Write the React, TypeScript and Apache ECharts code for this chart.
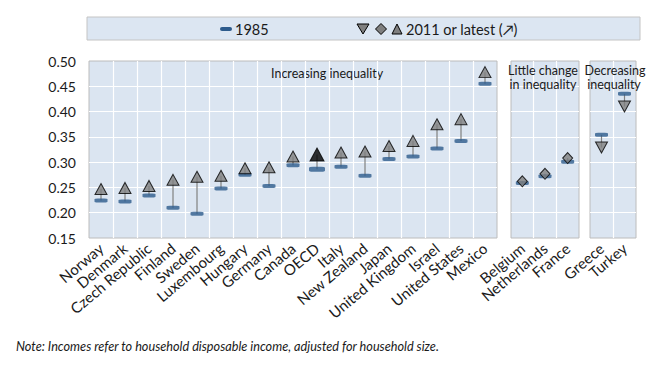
import React, { useEffect, useRef } from "react";
import * as echarts from "echarts";

const catIncreasing = ["Norway", "Denmark", "Czech Republic", "Finland", "Sweden", "Luxembourg", "Hungary", "Germany", "Canada", "OECD", "Italy", "New Zealand", "Japan", "United Kingdom", "Israel", "United States", "Mexico"];
const y1985Increasing = [0.224, 0.222, 0.234, 0.210, 0.198, 0.248, 0.275, 0.253, 0.294, 0.286, 0.291, 0.273, 0.306, 0.311, 0.327, 0.342, 0.455];
const yLatestIncreasing = [0.247, 0.249, 0.253, 0.265, 0.271, 0.273, 0.288, 0.290, 0.311, 0.315, 0.319, 0.321, 0.332, 0.342, 0.375, 0.385, 0.478];

const catLittle = ["Belgium", "Netherlands", "France"];
const y1985Little = [0.259, 0.272, 0.301];
const yLatestLittle = [0.262, 0.277, 0.308];

const catDecreasing = ["Greece", "Turkey"];
const y1985Decreasing = [0.354, 0.435];
const yLatestDecreasing = [0.329, 0.410];

const yTicks = ["0.15", "0.20", "0.25", "0.30", "0.35", "0.40", "0.45", "0.50"];

const FONT = "Lato, 'Liberation Sans', sans-serif";
const PANEL_BG = "#dbe5f1";
const PANEL_BORDER = "#bcbcbc";
const DASH = "#2d5b8c";
const TRI = "#7f7f7f";

export default function App() {
  const ref = useRef<HTMLDivElement>(null);
  useEffect(() => {
    document.body.style.margin = "0";
    const chart = echarts.init(ref.current!, null, { renderer: "svg" });
    const grids = [
      { left: 89, top: 61, width: 408, height: 177 },
      { left: 511, top: 61, width: 68, height: 177 },
      { left: 590, top: 61, width: 46, height: 177 },
    ];
    const cats = [catIncreasing, catLittle, catDecreasing];
    const lows = [y1985Increasing, y1985Little, y1985Decreasing];
    const highs = [yLatestIncreasing, yLatestLittle, yLatestDecreasing];

    const series: any[] = [];
    for (let g = 0; g < 3; g++) {
      const c = cats[g];
      const lo = lows[g];
      const hi = highs[g];
      series.push({
        type: "custom",
        xAxisIndex: g,
        yAxisIndex: g,
        z: 2,
        data: c.map((name, i) => [i, lo[i], hi[i]]),
        renderItem: (params: any, api: any) => {
          const p1 = api.coord([api.value(0), api.value(1)]);
          const p2 = api.coord([api.value(0), api.value(2)]);
          return {
            type: "line",
            shape: { x1: p1[0], y1: p1[1], x2: p2[0], y2: p2[1] },
            style: { stroke: "#808080", lineWidth: 1.2 },
          };
        },
      });
      series.push({
        type: "scatter",
        xAxisIndex: g,
        yAxisIndex: g,
        z: 3,
        symbol: "roundRect",
        symbolSize: [13, 4],
        itemStyle: { color: DASH },
        data: c.map((name, i) =>
          name === "OECD"
            ? { value: [i, lo[i]], symbolSize: [16, 5] }
            : [i, lo[i]]
        ),
      });
      const sym = g === 1 ? "diamond" : "triangle";
      series.push({
        type: "scatter",
        xAxisIndex: g,
        yAxisIndex: g,
        z: 4,
        symbol: sym,
        symbolRotate: g === 2 ? 180 : 0,
        symbolSize: g === 1 ? [10, 11] : [12, 11],
        itemStyle: { color: TRI, borderColor: "#000", borderWidth: 1 },
        data: c.map((name, i) =>
          name === "OECD"
            ? { value: [i, hi[i]], symbolSize: [14, 13], itemStyle: { color: "#000" } }
            : [i, hi[i]]
        ),
      });
    }

    const splitWhite = { show: true, lineStyle: { color: "#ffffff", width: 1.2 }, showMinLine: false, showMaxLine: false };

    const panelText = (text: string, x: number, y: number) => ({
      type: "text",
      x,
      y,
      z: 10,
      style: { text, font: `12.5px ${FONT}`, fill: "#1a1a1a", verticalAlign: "middle", align: "center" },
    });

    chart.setOption({
      animation: false,
      textStyle: { fontFamily: FONT },
      grid: grids.map((g) => ({
        ...g,
        show: true,
        backgroundColor: PANEL_BG,
        borderColor: PANEL_BORDER,
        borderWidth: 1,
        containLabel: false,
      })),
      xAxis: cats.map((c, g) => ({
        type: "category",
        gridIndex: g,
        data: c,
        boundaryGap: true,
        axisLine: { show: false },
        axisTick: { show: false },
        splitLine: { ...splitWhite, interval: 0 },
        axisLabel: {
          interval: 0,
          rotate: 40,
          margin: 8,
          fontSize: 15,
          color: "#1a1a1a",
          fontFamily: FONT,
        },
      })),
      yAxis: [0, 1, 2].map((g) => ({
        type: "value",
        gridIndex: g,
        min: 0.15,
        max: 0.5,
        interval: 0.05,
        axisLine: { show: false },
        axisTick: { show: false },
        splitLine: splitWhite,
        axisLabel: {
          show: g === 0,
          margin: 13,
          fontSize: 14,
          color: "#1a1a1a",
          fontFamily: FONT,
          formatter: (v: number) => {
            const idx = Math.round((v - 0.15) / 0.05);
            return yTicks[idx] ?? v.toFixed(2);
          },
        },
      })),
      series,
      graphic: [
        {
          type: "rect",
          shape: { x: 87, y: 17, width: 553, height: 23 },
          style: { fill: "#dce6f2", stroke: "#c4c4c4", lineWidth: 1 },
        },
        {
          type: "rect",
          shape: { x: 220, y: 27, width: 12, height: 4, r: 2 },
          style: { fill: DASH },
        },
        {
          type: "text",
          x: 235,
          y: 29,
          style: { text: "1985", font: `14.5px ${FONT}`, fill: "#1a1a1a", verticalAlign: "middle" },
        },
        {
          type: "polygon",
          shape: { points: [[357, 24], [369, 24], [363, 34]] },
          style: { fill: TRI, stroke: "#000", lineWidth: 1 },
        },
        {
          type: "polygon",
          shape: { points: [[381, 23.5], [386.5, 29], [381, 34.5], [375.5, 29]] },
          style: { fill: TRI, stroke: "#000", lineWidth: 1 },
        },
        {
          type: "polygon",
          shape: { points: [[397, 24], [402, 34], [392, 34]] },
          style: { fill: TRI, stroke: "#000", lineWidth: 1 },
        },
        {
          type: "text",
          x: 406,
          y: 29,
          style: { text: "2011 or latest (↗)", font: `14.5px ${FONT}`, fill: "#1a1a1a", verticalAlign: "middle" },
        },
        {
          type: "text",
          x: 271,
          y: 73,
          style: { text: "Increasing inequality", font: `12.5px ${FONT}`, fill: "#1a1a1a", verticalAlign: "middle" },
        },
        panelText("Little change", 543, 70.5),
        panelText("in inequality", 543, 84.5),
        panelText("Decreasing", 615, 70.5),
        panelText("inequality", 614, 84.5),
        {
          type: "text",
          x: 16,
          y: 346,
          style: {
            text: "Note: Incomes refer to household disposable income, adjusted for household size.",
            font: `italic 12.7px ${FONT}`,
            fill: "#1a1a1a",
            verticalAlign: "middle",
          },
        },
      ],
    });
    return () => chart.dispose();
  }, []);
  return <div ref={ref} style={{ width: 652, height: 366 }} />;
}
